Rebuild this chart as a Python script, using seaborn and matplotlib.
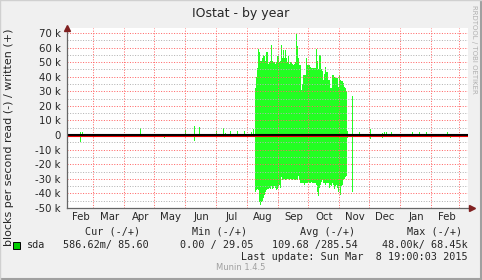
import pandas as pd
import matplotlib
matplotlib.use("Agg")
import matplotlib.pyplot as plt
import matplotlib.dates as mdates
from matplotlib.ticker import MultipleLocator
from matplotlib.patches import Rectangle
from matplotlib.lines import Line2D
import seaborn as sns

# --- DATA (thousands of blocks per second) ---
# busy period, one value per day
burst_start = "2014-08-10"
burst_written = [32, 40, 46, 59, 57, 51, 51, 53, 55, 54, 51, 57, 57, 49, 50, 51,
                 62, 51, 50, 50, 49, 50, 54, 54, 50, 51, 62, 53, 58, 53, 58, 53,
                 50, 54, 49, 50, 50, 49, 48, 49, 50, 69, 61, 53, 48, 48, 31, 35,
                 41, 41, 41, 53, 48, 48, 48, 47, 46, 46, 46, 46, 46, 59, 51, 45,
                 55, 55, 45, 44, 38, 42, 47, 43, 43, 38, 38, 32, 32, 41, 41, 40,
                 39, 39, 39, 33, 41, 38, 37, 37, 36, 33, 32, 30, 3]
burst_read = [39, 38, 37, 38, 46, 48, 46, 45, 43, 41, 39, 38, 37, 37, 36, 37,
              35, 37, 36, 35, 36, 38, 37, 35, 34, 36, 29, 31, 30, 30, 31, 30,
              30, 30, 31, 30, 30, 31, 30, 31, 31, 30, 31, 28, 31, 33, 33, 33,
              33, 34, 33, 33, 33, 32, 33, 33, 32, 33, 33, 33, 33, 34, 39, 42,
              36, 34, 32, 31, 33, 33, 34, 33, 33, 33, 36, 34, 35, 33, 34, 37,
              35, 34, 36, 39, 35, 41, 35, 34, 31, 30, 29, 28, 2]

# isolated spikes outside the busy period
spike_dates = ["2014-02-16", "2014-02-18", "2014-03-02", "2014-04-17", "2014-05-11",
               "2014-06-01", "2014-06-10", "2014-06-15", "2014-06-25", "2014-07-02",
               "2014-07-09", "2014-07-11", "2014-07-16", "2014-07-23", "2014-07-30",
               "2014-08-06", "2014-08-08", "2014-11-15", "2014-11-22", "2014-11-24",
               "2014-12-03", "2014-12-15", "2014-12-17", "2014-12-19", "2014-12-24",
               "2014-12-31", "2015-01-14", "2015-01-21", "2015-01-28", "2015-02-13",
               "2015-02-18", "2015-02-21"]
spike_written = [2.3, 2, 1, 4.6, 1, 3.4, 6.2, 5.3, 1, 3, 4.6, 1.5, 3, 3, 3, 2, 4,
                 27, 2, 1, 4.1, 1.5, 2, 2, 2, 1, 2, 2, 2, 0, 2, 0]
spike_read = [4.5, 0, 0, 0, 2, 0, 3.9, 0, 1.5, 0, 0, 0, 0, 0, 0, 0, 0,
              39, 0, 0, 3, 2, 0, 0, 0, 0, 0, 0, 0, 1.5, 0, 2]

x_start = "2014-02-02 18:00"
x_end = "2015-03-10 00:00"
y_ticks = list(range(-50, 71, 10))

legend_cols = ["Cur (-/+)", "Min (-/+)", "Avg (-/+)", "Max (-/+)"]
legend_vals = ["586.62m/ 85.60", "0.00 / 29.05", "109.68 /285.54", "48.00k/ 68.45k"]

# --- BUILD FRAME ---
burst_dates = pd.date_range(burst_start, periods=len(burst_written), freq="D")
df = pd.DataFrame({
    "date": list(burst_dates) + list(pd.to_datetime(spike_dates)),
    "written": burst_written + spike_written,
    "read": burst_read + spike_read,
})
df["day"] = mdates.date2num(df["date"])
df["read_neg"] = -df["read"]

# --- STYLE ---
sns.set_style("white")
plt.rcParams["font.family"] = ["DejaVu Sans"]

W, H = 482, 280


def px(x, y):
    return x / W, 1 - y / H


fig = plt.figure(figsize=(W / 100, H / 100), dpi=100, facecolor="#F0F0F0")
ax = fig.add_axes([67 / W, 72 / H, 401 / W, 180 / H])
ax.set_facecolor("white")

green = "#22FF22"
for col in ["written", "read_neg"]:
    sns.barplot(data=df, x="day", y=col, native_scale=True, width=1.0,
                color=green, saturation=1, errorbar=None, linewidth=0, ax=ax)

# zero line (black with red under it, as munin draws it)
ax.axhline(0.3, color="black", lw=1.5, zorder=4)
ax.axhline(-0.9, color="#EE0000", lw=0.8, zorder=4)

ax.set_xlim(mdates.datestr2num(x_start), mdates.datestr2num(x_end))
ax.set_ylim(-50, 73.4)
ax.set_xlabel("")
ax.set_ylabel("")

# x axis: month boundaries as ticks/grid, labels mid-month
ax.xaxis.set_major_locator(mdates.MonthLocator())
ax.xaxis.set_major_formatter(plt.NullFormatter())
ax.xaxis.set_minor_locator(mdates.MonthLocator(bymonthday=17))
ax.xaxis.set_minor_formatter(mdates.DateFormatter("%b"))

ax.set_yticks(y_ticks)
ax.set_yticklabels([f"{v} k" if v != 0 else "0" for v in y_ticks])
ax.yaxis.set_minor_locator(MultipleLocator(5))

ax.tick_params(axis="x", which="major", length=3, width=0.7, color="#999999",
               direction="out")
ax.tick_params(axis="x", which="minor", length=0, pad=3, labelsize=7.3)
ax.tick_params(axis="y", which="major", length=3, width=0.7, color="#999999",
               pad=1.5, labelsize=7.3)
ax.tick_params(axis="y", which="minor", length=0)

dots = (0, (1, 1.6))
ax.grid(which="minor", axis="y", color=(0.7, 0.7, 0.7, 0.5), lw=0.72, ls=dots)
ax.grid(which="major", axis="both", color=(1.0, 0.4, 0.4, 0.45), lw=0.72, ls=dots)
ax.set_axisbelow(False)
for gl in ax.get_xgridlines() + ax.get_ygridlines():
    gl.set_zorder(3)

for s in ["top", "right"]:
    ax.spines[s].set_visible(False)
for s in ["left", "bottom"]:
    ax.spines[s].set_color("#666666")
    ax.spines[s].set_linewidth(0.9)
    ax.spines[s].set_zorder(5)

# axis arrows
ax.plot([1, 1.011], [0, 0], color="#666666", lw=0.9, transform=ax.transAxes,
        clip_on=False, zorder=5)
ax.plot([1.011], [0], marker=">", ms=4, color="#802020", transform=ax.transAxes,
        clip_on=False, zorder=6)
ax.plot([0], [1.0], marker="^", ms=4, color="#802020", transform=ax.transAxes,
        clip_on=False, zorder=6)

# --- TEXT ---
fig.text(*px(241, 14), "IOstat - by year", ha="center", va="center", fontsize=9)
fig.text(*px(9, 137), "blocks per second read (-) / written (+)", rotation=90,
         ha="center", va="center", fontsize=8)
fig.text(*px(474, 5), "RRDTOOL / TOBI OETIKER", rotation=270, ha="center",
         va="top", fontsize=5, color="#B0B0B0")

mono = ["DejaVu Sans Mono"]
for cx, lab in zip([113, 220, 328, 435], legend_cols):
    fig.text(*px(cx, 232), lab, ha="center", va="center", fontsize=7.3, family=mono)
fig.add_artist(Rectangle(px(13, 249), 7 / W, 7 / H, transform=fig.transFigure,
                         facecolor="#00CC00", edgecolor="black", lw=0.7))
fig.text(*px(27, 245), "sda", ha="left", va="center", fontsize=7.3, family=mono)
for rx, val in zip([149, 253, 358, 468], legend_vals):
    fig.text(*px(rx, 245), val, ha="right", va="center", fontsize=7.3, family=mono)
fig.text(*px(468, 257), "Last update: Sun Mar  8 19:00:03 2015", ha="right",
         va="center", fontsize=7.3, family=mono)
fig.text(*px(241, 268), "Munin 1.4.5", ha="center", va="center", fontsize=6,
         color="#A0A0A0")

# window border
fig.add_artist(Line2D([0, 1], [0.002, 0.002], transform=fig.transFigure,
                      color="#A0A0A0", lw=1.5))
fig.add_artist(Line2D([0.998, 0.998], [0, 1], transform=fig.transFigure,
                      color="#A0A0A0", lw=1.5))
fig.add_artist(Line2D([0.001, 0.001], [0, 1], transform=fig.transFigure,
                      color="#D0D0D0", lw=1))
fig.add_artist(Line2D([0, 1], [0.999, 0.999], transform=fig.transFigure,
                      color="#D0D0D0", lw=1))

fig.savefig("out.png", dpi=100, facecolor=fig.get_facecolor())
plt.close(fig)
